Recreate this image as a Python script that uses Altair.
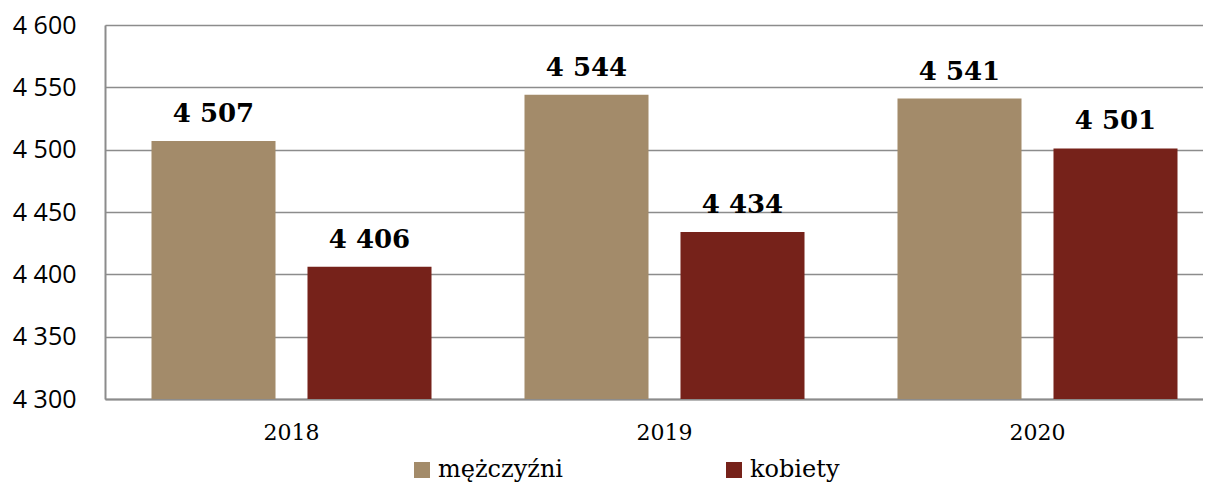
import altair as alt
import pandas as pd

years = ["2018", "2019", "2020"]
series = ["mężczyźni", "kobiety"]
men = [4507, 4544, 4541]
women = [4406, 4434, 4501]
colors = ["#A38B6A", "#76221A"]
y_ticks = [4300, 4350, 4400, 4450, 4500, 4550, 4600]

rows = []
for i, y in enumerate(years):
    rows.append({"rok": y, "płeć": series[0], "wartość": men[i]})
    rows.append({"rok": y, "płeć": series[1], "wartość": women[i]})
df = pd.DataFrame(rows)

base = alt.Chart(df).encode(
    x=alt.X("rok:N", sort=years, title=None,
            scale=alt.Scale(paddingInner=0, paddingOuter=0, range=[0, 1119]),
            axis=alt.Axis(labelAngle=0, labelFont="DejaVu Serif", labelFontSize=22,
                          labelColor="#000", labelPadding=23, ticks=False,
                          domainColor="#8C8C8C", domainWidth=2)),
    xOffset=alt.XOffset("płeć:N", sort=series,
                        scale=alt.Scale(paddingInner=0.205, paddingOuter=0.298)),
    y=alt.Y("wartość:Q", title=None,
            scale=alt.Scale(domain=[4300, 4600], nice=False, zero=False),
            axis=alt.Axis(values=y_ticks,
                          labelExpr="replace(format(datum.value, ','), ',', ' ')",
                          labelFont="Open Sans", labelFontSize=25, labelColor="#000",
                          labelPadding=29, ticks=False, grid=True,
                          gridColor="#8C8C8C", gridWidth=1.5,
                          domainColor="#8C8C8C", domainWidth=2)),
)

bars = base.mark_bar(clip=True).encode(
    color=alt.Color("płeć:N", sort=series,
                    scale=alt.Scale(domain=series, range=colors),
                    legend=alt.Legend(title=None, orient="none", direction="horizontal",
                                      legendX=305, legendY=433,
                                      symbolType="square", symbolSize=256,
                                      symbolStrokeWidth=0, symbolOpacity=1,
                                      labelFont="DejaVu Serif", labelFontSize=24,
                                      labelColor="#000", columnPadding=158,
                                      labelOffset=4))
)

labels = base.mark_text(baseline="alphabetic", dy=-19, font="DejaVu Serif",
                        fontSize=26, fontWeight="bold", color="#000").transform_calculate(
    lab="replace(format(datum['wartość'], ','), ',', ' ')"
).encode(text="lab:N")

chart = alt.layer(bars, labels).properties(
    width=1098, height=374,
    padding={"left": 97, "top": 17, "right": 0, "bottom": 85},
    autosize=alt.AutoSizeParams(type="none"),
).configure_view(stroke=None).configure(background="white")

chart.save("out.html", embed_options={"renderer": "svg", "actions": False})
